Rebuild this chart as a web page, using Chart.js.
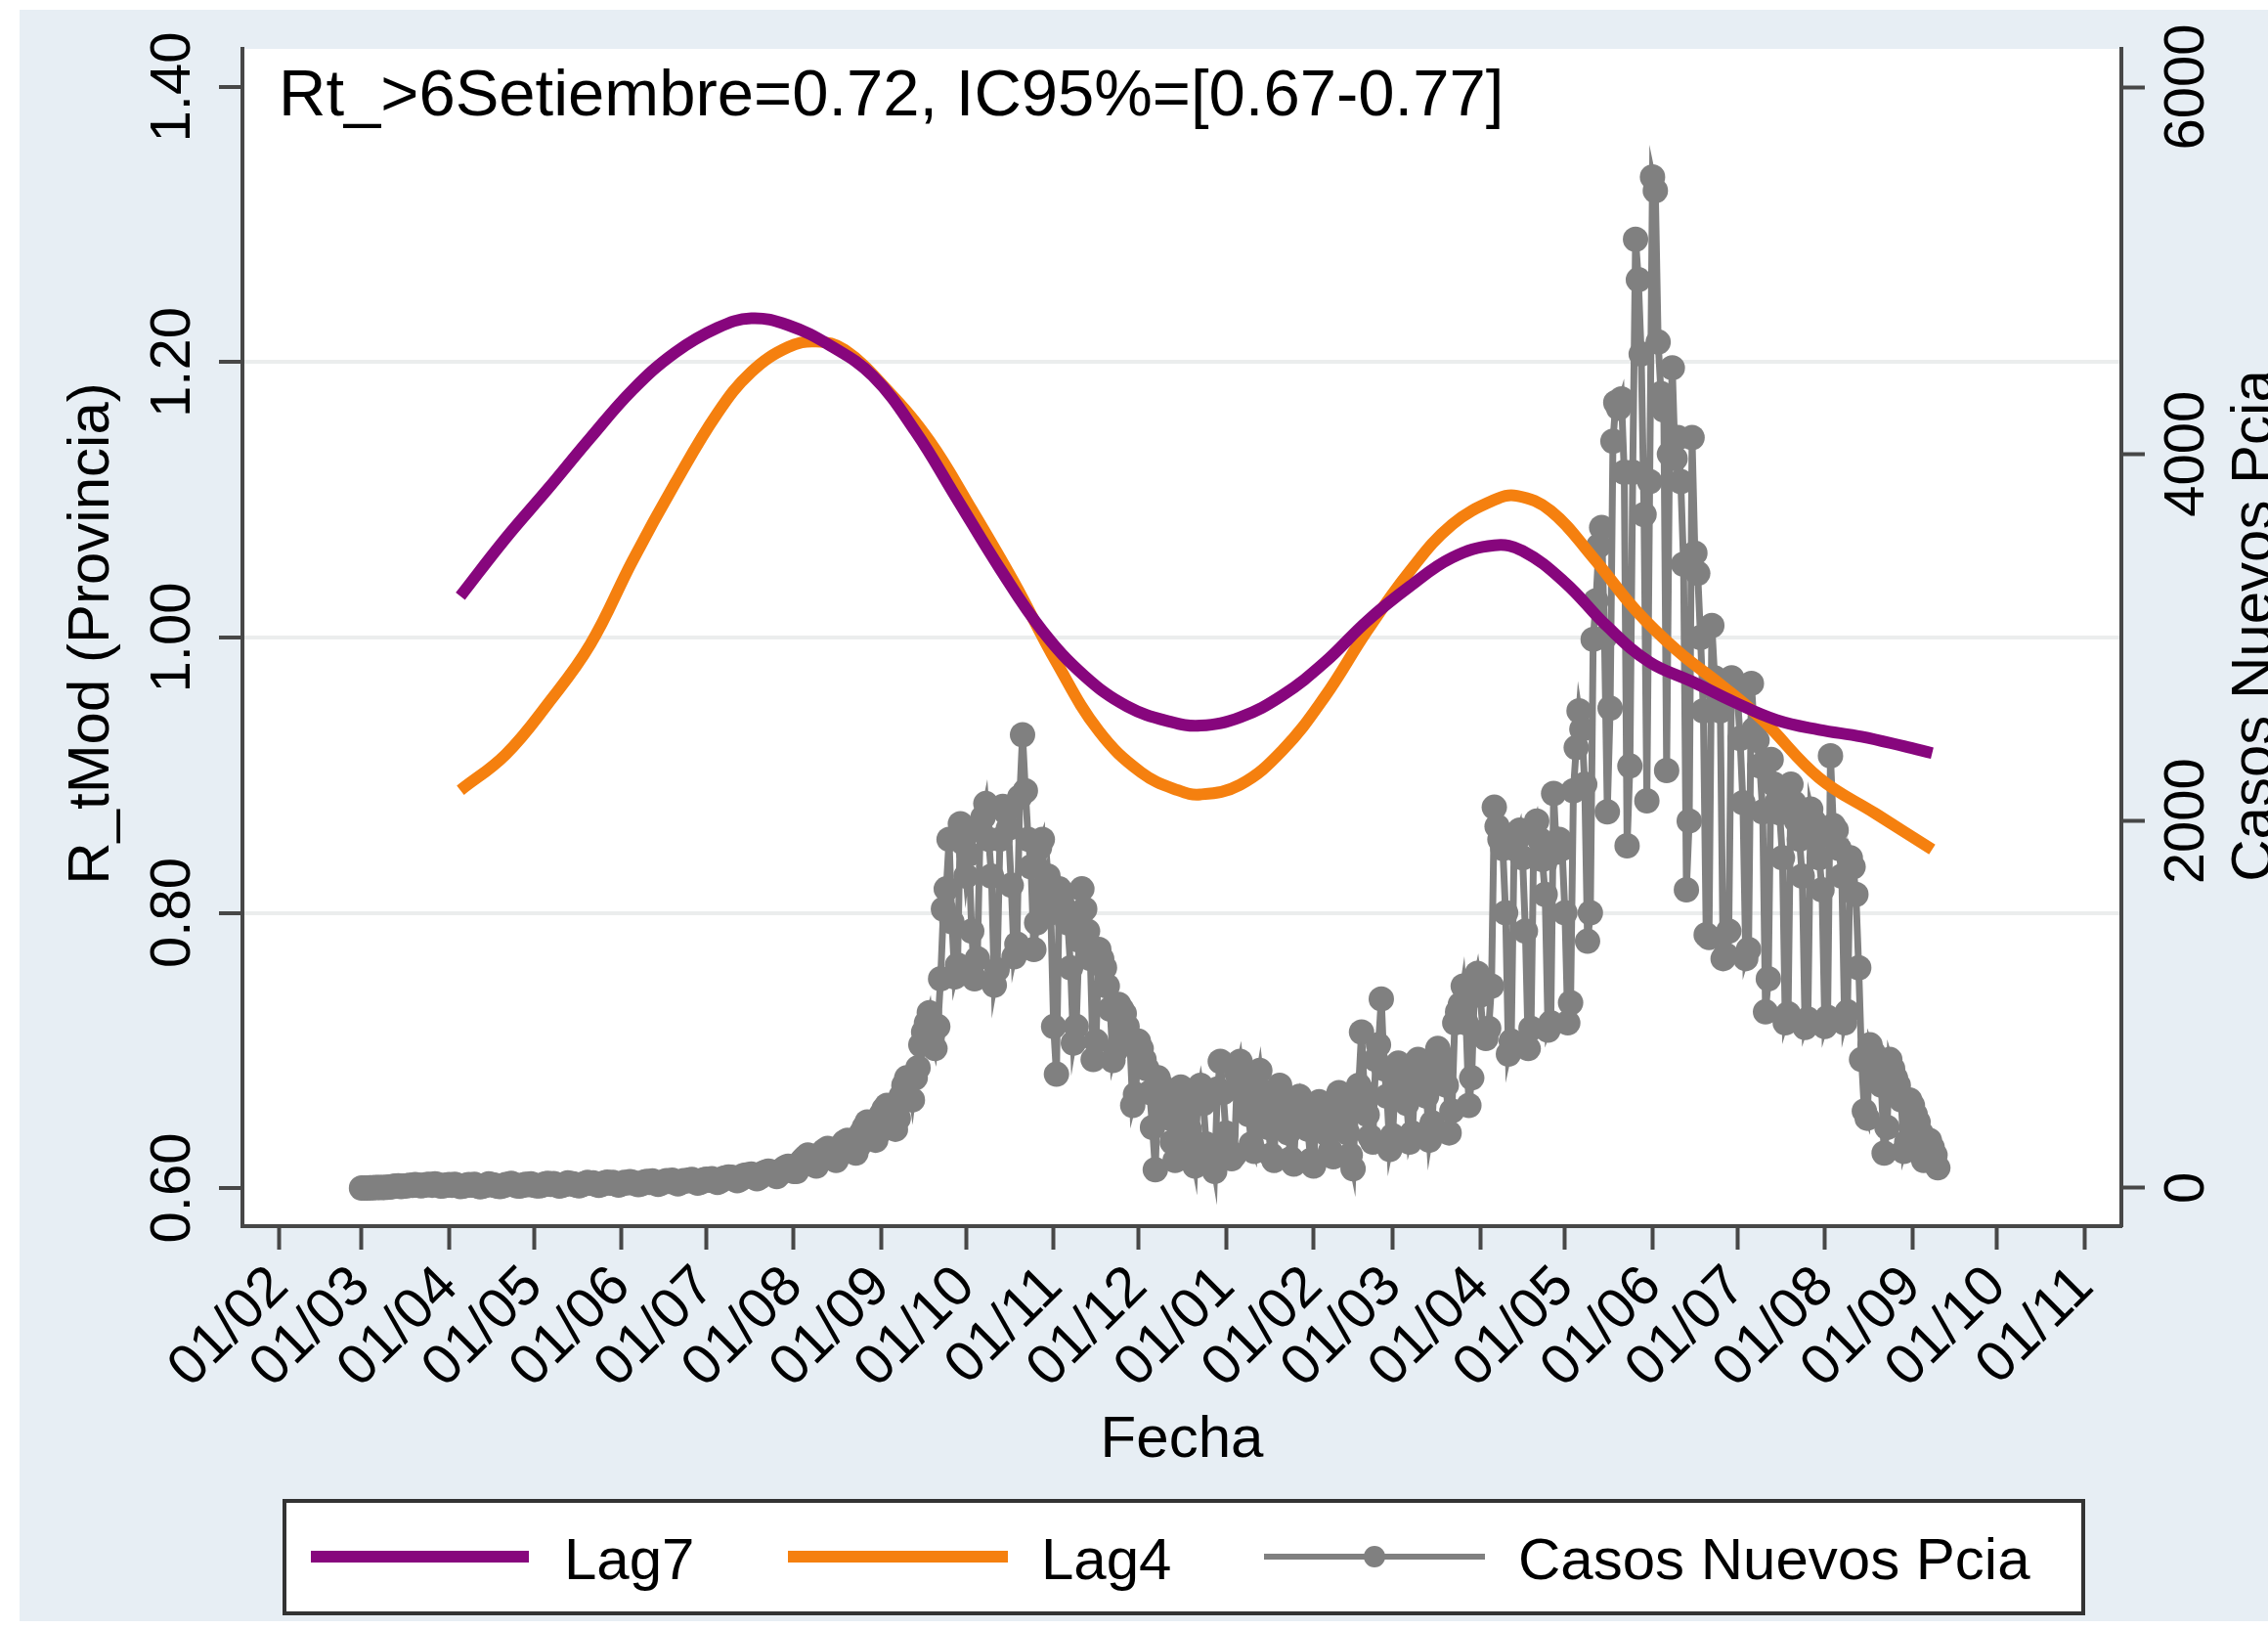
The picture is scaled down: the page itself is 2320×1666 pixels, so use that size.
<!DOCTYPE html>
<html>
<head>
<meta charset="utf-8">
<script src="https://cdn.jsdelivr.net/npm/chart.js@4.4.1/dist/chart.umd.min.js"></script>
<style>
  html, body { margin: 0; padding: 0; background: #fff; }
  #wrap { width: 2320px; height: 1666px; }
</style>
</head>
<body>
<div id="wrap"><canvas id="grafico" width="2320" height="1666"></canvas></div>
<script>
// marcas del eje de fechas
const fechasEje = [
  "2020-02-01", "2020-03-01", "2020-04-01", "2020-05-01", "2020-06-01", "2020-07-01",
  "2020-08-01", "2020-09-01", "2020-10-01", "2020-11-01", "2020-12-01", "2021-01-01",
  "2021-02-01", "2021-03-01", "2021-04-01", "2021-05-01", "2021-06-01", "2021-07-01",
  "2021-08-01", "2021-09-01", "2021-10-01", "2021-11-01",
];
const ticksR = [0.6, 0.8, 1.0, 1.2, 1.4];
const ticksCasos = [0, 2000, 4000, 6000];

// casos nuevos diarios, desde el 01/03/2020 (una fila por semana, domingo a sabado)
const inicioCasos = "2020-03-01";
const casosNuevos = [
  0, 0, 0, 1, 1, 2, 3,
  2, 3, 4, 5, 8, 10, 12,
  8, 10, 12, 15, 14, 18, 16,
  12, 14, 18, 20, 15, 22, 18,
  10, 12, 16, 18, 15, 20, 14,
  8, 10, 14, 18, 16, 20, 12,
  6, 10, 15, 22, 18, 16, 10,
  8, 12, 18, 20, 25, 18, 12,
  10, 14, 20, 18, 22, 16, 12,
  12, 15, 22, 25, 20, 24, 18,
  10, 14, 20, 28, 24, 22, 16,
  12, 18, 24, 30, 26, 28, 20,
  14, 20, 28, 32, 26, 30, 22,
  16, 22, 30, 28, 34, 30, 24,
  18, 22, 32, 36, 30, 38, 28,
  20, 26, 34, 40, 36, 42, 30,
  22, 30, 40, 38, 44, 46, 34,
  26, 32, 44, 48, 42, 50, 38,
  30, 38, 52, 56, 60, 58, 48,
  40, 48, 66, 70, 72, 76, 60,
  50, 60, 80, 86, 92, 88, 74,
  62, 78, 100, 112, 118, 106, 90,
  90, 120, 150, 165, 180, 170, 140,
  120, 150, 190, 205, 215, 200, 170,
  150, 180, 230, 250, 260, 240, 200,
  190, 230, 300, 330, 360, 340, 280,
  260, 300, 400, 430, 450, 420, 360,
  320, 380, 500, 560, 600, 585, 480,
  600, 655, 780, 850, 900, 955, 820,
  760, 880, 1140, 1520, 1630, 1900, 1450,
  1150, 1215, 1985, 1880, 1700, 1820, 1400,
  1140, 1250, 1950, 2020, 2095, 1900, 1700,
  1105, 1190, 1900, 2080, 2050, 1960, 1650,
  1260, 1330, 2130, 2470, 2165, 1900, 1750,
  1300, 1445, 1855, 1900, 1595, 1700, 1500,
  880, 620, 1630, 1595, 1520, 1445, 1200,
  790, 880, 1350, 1630, 1520, 1400, 1250,
  700, 800, 1300, 1250, 1200, 1100, 975,
  695, 750, 1000, 975, 950, 880, 800,
  450, 510, 800, 760, 700, 650, 520,
  330, 100, 600, 560, 480, 450, 380,
  250, 150, 520, 550, 480, 420, 320,
  200, 120, 480, 560, 460, 240, 150,
  180, 90, 540, 690, 520, 300, 200,
  160, 180, 620, 690, 560, 500, 400,
  240, 200, 550, 640, 500, 420, 330,
  180, 150, 520, 560, 480, 400, 300,
  160, 130, 450, 500, 420, 380, 320,
  150, 120, 430, 470, 440, 360, 290,
  200, 170, 480, 520, 460, 380, 300,
  180, 105, 500, 560, 850, 520, 400,
  280, 250, 700, 780, 1030, 650, 500,
  210, 285, 600, 680, 640, 560, 460,
  250, 300, 620, 700, 680, 600, 500,
  260, 355, 680, 760, 720, 650, 560,
  300, 420, 900, 960, 1000, 1100, 900,
  450, 600, 1100, 1170, 1050, 850, 815,
  870, 1100, 2075, 1970, 1900, 1850, 1500,
  730, 800, 1850, 1900, 1950, 1800, 1400,
  760, 870, 1950, 2000, 1900, 1790, 1600,
  860, 900, 2150, 1830, 1900, 1850, 1500,
  900, 1010, 2165, 2400, 2600, 2500, 2200,
  1345, 1500, 2990, 3200, 3500, 3600, 3000,
  2050, 2615, 4070, 4280, 4250, 4300, 3900,
  1865, 2300, 3900, 5170, 4950, 4545, 3670,
  2110, 3850, 5510, 5435, 4610, 4330, 4240,
  2275, 4000, 4470, 3975, 4090, 3850, 3400,
  1625, 2000, 4090, 3460, 3350, 3000, 2600,
  1380, 1365, 3065, 2780, 2700, 2600, 1250,
  1270, 1400, 2780, 2690, 2700, 2450, 2100,
  1250, 1300, 2750, 2500, 2440, 2300, 2050,
  960, 1140, 2335, 2200, 2100, 2045, 1800,
  900, 950, 2200, 2100, 2000, 1900, 1700,
  875, 920, 2065, 2000, 1900, 1800, 1625,
  880, 930, 2355, 1975, 1950, 1850, 1700,
  900, 960, 1800, 1750, 1600, 1200, 700,
  420, 380, 780, 740, 700, 650, 560,
  190, 330, 700, 650, 600, 560, 480,
  200, 250, 480, 450, 400, 360, 300,
  150, 180, 260, 220, 180, 110,
];

// Rt modelado, rezago 7
const lag7Fechas = [
  "2020-04-05", "2020-04-21", "2020-05-06", "2020-05-21", "2020-06-05", "2020-06-20",
  "2020-07-05", "2020-07-17", "2020-07-30", "2020-08-14", "2020-08-29", "2020-09-13",
  "2020-09-28", "2020-10-13", "2020-10-28", "2020-11-12", "2020-11-27", "2020-12-12",
  "2020-12-23", "2021-01-06", "2021-01-21", "2021-02-05", "2021-02-20", "2021-03-07",
  "2021-03-22", "2021-04-06", "2021-04-16", "2021-05-01", "2021-05-16", "2021-05-31",
  "2021-06-15", "2021-06-30", "2021-07-15", "2021-07-30", "2021-08-14", "2021-08-29",
  "2021-09-08",
];
const lag7 = [
  1.030, 1.072, 1.108, 1.145, 1.180, 1.207,
  1.225, 1.232, 1.227, 1.212, 1.190, 1.150,
  1.100, 1.050, 1.005, 0.972, 0.950, 0.939,
  0.936, 0.942, 0.958, 0.982, 1.012, 1.037,
  1.058, 1.067, 1.063, 1.040, 1.008, 0.982,
  0.968, 0.953, 0.940, 0.933, 0.928, 0.921,
  0.916,
];

// Rt modelado, rezago 4
const lag4Fechas = [
  "2020-04-05", "2020-04-21", "2020-05-06", "2020-05-21", "2020-06-05", "2020-06-20",
  "2020-07-05", "2020-07-17", "2020-07-30", "2020-08-09", "2020-08-19", "2020-09-03",
  "2020-09-18", "2020-10-03", "2020-10-18", "2020-11-02", "2020-11-17", "2020-12-02",
  "2020-12-15", "2020-12-23", "2021-01-06", "2021-01-21", "2021-02-05", "2021-02-20",
  "2021-03-07", "2021-03-22", "2021-04-06", "2021-04-14", "2021-04-26", "2021-05-11",
  "2021-05-26", "2021-06-10", "2021-06-25", "2021-07-10", "2021-07-30", "2021-08-19",
  "2021-09-08",
];
const lag4 = [
  0.889, 0.915, 0.952, 0.995, 1.056, 1.112,
  1.163, 1.193, 1.211, 1.215, 1.209, 1.180,
  1.143, 1.093, 1.040, 0.982, 0.932, 0.902,
  0.889, 0.886, 0.893, 0.918, 0.957, 1.005,
  1.048, 1.082, 1.100, 1.103, 1.092, 1.058,
  1.020, 0.990, 0.966, 0.940, 0.898, 0.872,
  0.846,
];

const PURPURA = "#87067d";
const NARANJA = "#f5800f";
const GRIS = "#808080";
const EJE = "#474747";
const GRILLA = "#ebeded";
const FONDO = "#e7eef4";
const FUENTE = "'Liberation Sans', Arial, Helvetica, sans-serif";

const origen = Date.UTC(2020, 1, 1);
function dia(f) {
  const [a, m, d] = f.split("-").map(Number);
  return Math.round((Date.UTC(a, m - 1, d) - origen) / 86400000);
}
const ticksX = fechasEje.map(dia);
const etiquetasX = fechasEje.map((f) => f.slice(8, 10) + "/" + f.slice(5, 7));
const dia0 = dia(inicioCasos);

Chart.defaults.font.family = FUENTE;
Chart.defaults.color = "#000";

const fondo = {
  id: "fondo",
  beforeDraw(chart) {
    const { ctx, chartArea: a } = chart;
    ctx.save();
    ctx.fillStyle = "#fff";
    ctx.fillRect(0, 0, chart.width, chart.height);
    ctx.fillStyle = FONDO;
    ctx.fillRect(20, 10, chart.width - 20, 1648);
    ctx.fillStyle = "#fff";
    ctx.fillRect(a.left, a.top, a.right - a.left, a.bottom - a.top);
    ctx.restore();
  },
};

function textoRotado(ctx, txt, x, y) {
  ctx.save();
  ctx.translate(x, y);
  ctx.rotate(-Math.PI / 2);
  ctx.textAlign = "center";
  ctx.textBaseline = "alphabetic";
  ctx.fillText(txt, 0, 0);
  ctx.restore();
}

const textos = {
  id: "textos",
  afterDraw(chart) {
    const { ctx, scales } = chart;
    ctx.save();
    ctx.fillStyle = "#000";

    // etiquetas de los ejes verticales
    ctx.font = "58px " + FUENTE;
    ticksR.forEach((v) => textoRotado(ctx, v.toFixed(2), 194, scales.y.getPixelForValue(v)));
    ticksCasos.forEach((v) => textoRotado(ctx, String(v), 2254, scales.y1.getPixelForValue(v)));

    // titulos de ejes
    ctx.font = "60px " + FUENTE;
    textoRotado(ctx, "R_tMod (Provincia)", 111, 648);
    textoRotado(ctx, "Casos Nuevos Pcia", 2324, 640);
    ctx.textAlign = "center";
    ctx.fillText("Fecha", 1209, 1490);

    // nota superior
    ctx.font = "67px " + FUENTE;
    ctx.textAlign = "left";
    ctx.fillText("Rt_>6Setiembre=0.72, IC95%=[0.67-0.77]", 285, 118);

    // leyenda
    ctx.fillStyle = "#fff";
    ctx.fillRect(291, 1535, 1840, 115);
    ctx.strokeStyle = "#333";
    ctx.lineWidth = 4;
    ctx.strokeRect(291, 1535, 1840, 115);
    const yl = 1592;
    ctx.lineCap = "butt";
    ctx.lineWidth = 12;
    ctx.strokeStyle = PURPURA;
    ctx.beginPath(); ctx.moveTo(318, yl); ctx.lineTo(541, yl); ctx.stroke();
    ctx.strokeStyle = NARANJA;
    ctx.beginPath(); ctx.moveTo(806, yl); ctx.lineTo(1031, yl); ctx.stroke();
    ctx.lineWidth = 6;
    ctx.strokeStyle = GRIS;
    ctx.beginPath(); ctx.moveTo(1293, yl); ctx.lineTo(1519, yl); ctx.stroke();
    ctx.fillStyle = GRIS;
    ctx.beginPath(); ctx.arc(1406, yl, 11, 0, Math.PI * 2); ctx.fill();
    ctx.fillStyle = "#000";
    ctx.font = "60px " + FUENTE;
    ctx.fillText("Lag7", 577, 1615);
    ctx.fillText("Lag4", 1065, 1615);
    ctx.fillText("Casos Nuevos Pcia", 1553, 1615);
    ctx.restore();
  },
};

new Chart(document.getElementById("grafico"), {
  type: "line",
  data: {
    datasets: [
      {
        label: "Lag7",
        data: lag7Fechas.map((f, i) => ({ x: dia(f), y: lag7[i] })),
        yAxisID: "y",
        borderColor: PURPURA,
        borderWidth: 12,
        pointRadius: 0,
        tension: 0.4,
        order: 0,
      },
      {
        label: "Lag4",
        data: lag4Fechas.map((f, i) => ({ x: dia(f), y: lag4[i] })),
        yAxisID: "y",
        borderColor: NARANJA,
        borderWidth: 12,
        pointRadius: 0,
        tension: 0.4,
        order: 1,
      },
      {
        label: "Casos Nuevos Pcia",
        data: casosNuevos.map((v, i) => ({ x: dia0 + i, y: v })),
        yAxisID: "y1",
        borderColor: GRIS,
        backgroundColor: GRIS,
        borderWidth: 7,
        pointRadius: 13,
        pointBorderWidth: 0,
        pointBackgroundColor: GRIS,
        tension: 0,
        order: 2,
      },
    ],
  },
  options: {
    responsive: false,
    animation: false,
    devicePixelRatio: 1,
    layout: { padding: { top: 50, left: 0, right: 0, bottom: 0 } },
    plugins: { legend: { display: false }, tooltip: { enabled: false } },
    scales: {
      x: {
        type: "linear",
        bounds: "data",
        min: -13.15,
        max: 651.97,
        afterBuildTicks: (s) => { s.ticks = ticksX.map((v) => ({ value: v })); },
        afterFit: (s) => { s.height = 412; },
        grid: { drawOnChartArea: false, tickLength: 24, tickWidth: 4, tickColor: EJE },
        border: { color: EJE, width: 4 },
        ticks: {
          autoSkip: false,
          maxRotation: 45,
          minRotation: 45,
          padding: 4,
          color: "#000",
          font: { size: 58 },
          callback: (v, i) => etiquetasX[i],
        },
      },
      y: {
        position: "left",
        bounds: "data",
        min: 0.5723,
        max: 1.4277,
        afterBuildTicks: (s) => { s.ticks = ticksR.map((v) => ({ value: v })); },
        afterFit: (s) => { s.width = 248; },
        ticks: { display: false },
        grid: {
          color: (c) => (c.tick && (c.tick.value < 0.7 || c.tick.value > 1.3) ? "rgba(0,0,0,0)" : GRILLA),
          lineWidth: 4,
          tickLength: 24,
          tickWidth: 4,
          tickColor: EJE,
        },
        border: { color: EJE, width: 4 },
      },
      y1: {
        position: "right",
        bounds: "data",
        min: -208,
        max: 6208,
        afterBuildTicks: (s) => { s.ticks = ticksCasos.map((v) => ({ value: v })); },
        afterFit: (s) => { s.width = 150; },
        ticks: { display: false },
        grid: { drawOnChartArea: false, tickLength: 24, tickWidth: 4, tickColor: EJE },
        border: { color: EJE, width: 4 },
      },
    },
  },
  plugins: [fondo, textos],
});
</script>
</body>
</html>
